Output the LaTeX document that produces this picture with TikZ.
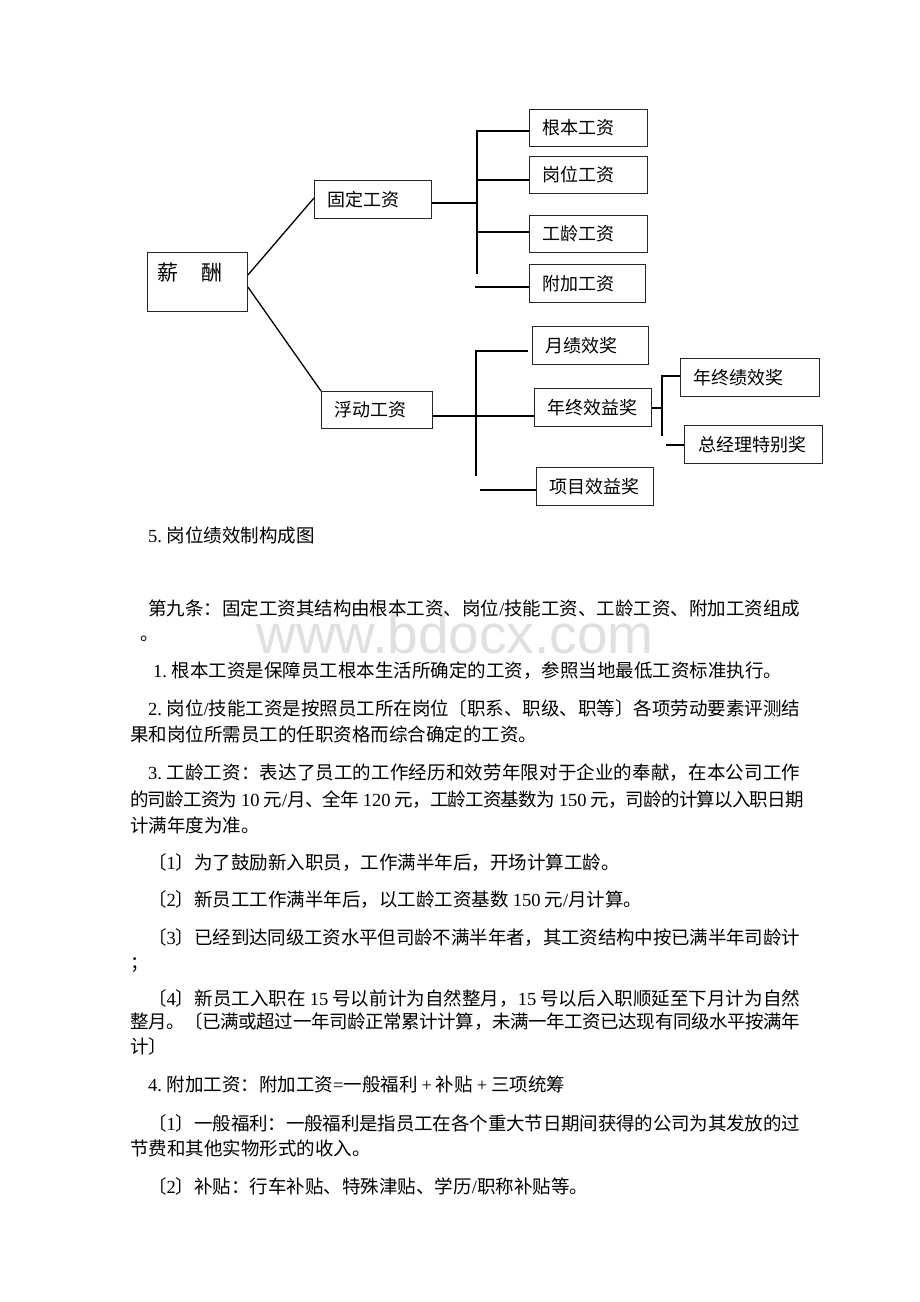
\documentclass[tikz,border=0pt]{standalone}
\usepackage{fontspec}
\setmainfont{Liberation Serif}
\newfontfamily\cjk{Noto Sans CJK SC}
\newfontfamily\tms{Liberation Serif}
\newfontfamily\wmfont{Liberation Sans}
\XeTeXinterchartokenstate=1
\newXeTeXintercharclass\cjkclass
\makeatletter
\count@="3000 \loop \XeTeXcharclass\count@=\cjkclass \advance\count@ by 1 \ifnum\count@<"3040 \repeat
\count@="4E00 \loop \XeTeXcharclass\count@=\cjkclass \advance\count@ by 1 \ifnum\count@<"A000 \repeat
\count@="FF00 \loop \XeTeXcharclass\count@=\cjkclass \advance\count@ by 1 \ifnum\count@<"FFF0 \repeat
\makeatother
\XeTeXinterchartoks\cjkclass\cjkclass={\hskip 0pt plus 4pt minus 0.8pt\relax}
\newcommand\nm[1]{\kern4pt{\tms #1}\kern4pt}
\newcommand\lead[1]{{\tms #1}\kern4.5pt}
\newcommand\jline[4]{\node[txt] (#1) at (#2) {\hbox to #3pt{#4}};}
\newcommand\nline[3]{\node[txt] (#1) at (#2) {#3};}
\begin{document}
\begin{tikzpicture}[x=1pt,y=-1pt,
  box/.style={draw=black!85, line width=0.9pt, rectangle, anchor=north west,
    inner ysep=0pt, inner xsep=13pt, align=left,
    font=\fontsize{18}{20}\selectfont\cjk},
  conn/.style={line width=1.4pt, black},
  txt/.style={anchor=base west, inner sep=0pt, font=\fontsize{18.5}{20}\selectfont\cjk},
  wm/.style={anchor=base, inner sep=0pt, text=black!12, font=\fontsize{55}{60}\selectfont\wmfont}]
\fill[white] (0,0) rectangle (920,1302);
\useasboundingbox (0,0) rectangle (920,1302);

% watermark
\node[wm] (wmk) at (455,653) {www.bdocx.com};

% boxes
\node[box, minimum width=100pt, minimum height=59pt] (xc) at (147,252) {};
\node[anchor=west, inner sep=0pt, font=\fontsize{21}{24}\selectfont\cjk] (xct) at (157,273) {薪\hspace{23pt}酬};
\node[box, minimum height=38pt, text width=91pt] (gd) at (314,180) {固定工资};
\node[box, minimum height=37pt, text width=92pt] (gb) at (529,109) {根本工资};
\node[box, minimum height=37pt, text width=92pt] (gw) at (529,156) {岗位工资};
\node[box, minimum height=37pt, text width=92pt] (gl) at (529,215) {工龄工资};
\node[box, minimum height=38pt, text width=90pt] (gf) at (529,264) {附加工资};
\node[box, minimum height=37pt, text width=85pt] (fd) at (321,391) {浮动工资};
\node[box, minimum height=38pt, text width=90pt] (yj) at (532,326) {月绩效奖};
\node[box, minimum height=38pt, text width=91pt] (nz) at (534,388) {年终效益奖};
\node[box, minimum height=38pt, text width=91pt] (xm) at (536,467) {项目效益奖};
\node[box, minimum height=38pt, text width=113pt] (nj) at (680,358) {年终绩效奖};
\node[box, minimum height=38pt, inner xsep=14pt, text width=110pt] (zj) at (684,425) {总经理特别奖};

% connectors: root
\draw[conn, line width=1.3pt] (xc.east |- 0,275) -- (gd.west |- 0,198);
\draw[conn, line width=1.3pt] (xc.east |- 0,287) -- (fd.north west);

% fixed salary bus
\coordinate (t0) at (477,203);
\coordinate (t1) at (477,131);
\coordinate (t2) at (477,180);
\coordinate (t3) at (477,232);
\coordinate (t4) at (477,274);
\coordinate (t5) at (475,287);
\draw[conn] (t0 -| gd.east) -- (t0);
\draw[conn] (t1 -| gb.west) -- (t1) -- (t4);
\draw[conn] (t2) -- (t2 -| gw.west);
\draw[conn] (t3) -- (t3 -| gl.west);
\draw[conn] (t5) -- (t5 -| gf.west);

% floating salary bus
\coordinate (u0) at (476,416);
\coordinate (u1) at (476,351);
\coordinate (u1e) at (528,351);
\coordinate (u2) at (476,476);
\coordinate (u3) at (480,490);
\draw[conn] (u1e) -- (u1) -- (u2);
\draw[conn] (u0 -| fd.east) -- (u0 -| nz.west);
\draw[conn] (u3) -- (u3 -| xm.west);

% year-end bonus bus
\coordinate (v0) at (662,408);
\coordinate (v1) at (662,376);
\coordinate (v2) at (662,436);
\coordinate (v3) at (666,445);
\draw[conn] (v0 -| nz.east) -- (v0);
\draw[conn] (v1 -| nj.west) -- (v1) -- (v2);
\draw[conn] (v3) -- (v3 -| zj.west);

% body text
\nline{l1}{148,542}{\lead{5.}岗位绩效制构成图}
\jline{l2}{148,615}{652}{第九条：固定工资其结构由根本工资、岗位{\tms /}技能工资、工龄工资、附加工资组成}
\nline{l3}{140,640}{。}
\nline{l4}{153,677}{\lead{1.}根本工资是保障员工根本生活所确定的工资，参照当地最低工资标准执行。}
\jline{l5}{148,715}{652}{\lead{2.}岗位{\tms /}技能工资是按照员工所在岗位〔职系、职级、职等〕各项劳动要素评测结}
\nline{l6}{130,741}{果和岗位所需员工的任职资格而综合确定的工资。}
\jline{l7}{148,779}{652}{\lead{3.}工龄工资：表达了员工的工作经历和效劳年限对于企业的奉献，在本公司工作}
\jline{l8}{130,806}{670}{的司龄工资为\nm{10}元{\tms /}月、全年\nm{120}元，工龄工资基数为\nm{150}元，司龄的计算以入职日期}
\nline{l9}{130,832}{计满年度为准。}
\nline{l10}{148,869}{〔{\tms 1}〕为了鼓励新入职员，工作满半年后，开场计算工龄。}
\nline{l11}{148,906}{〔{\tms 2}〕新员工工作满半年后，以工龄工资基数\nm{150}元{\tms /}月计算。}
\jline{l12}{148,944}{652}{〔{\tms 3}〕已经到达同级工资水平但司龄不满半年者，其工资结构中按已满半年司龄计}
\nline{l13}{130,969}{；}
\jline{l14}{148,1005}{652}{〔{\tms 4}〕新员工入职在\nm{15}号以前计为自然整月，{\tms 15}\kern4pt 号以后入职顺延至下月计为自然}
\jline{l15}{130,1028}{670}{整月。〔已满或超过一年司龄正常累计计算，未满一年工资已达现有同级水平按满年}
\nline{l16}{130,1053}{计〕}
\nline{l17}{148,1091}{\lead{4.}附加工资：附加工资{\tms =}一般福利\nm{+}补贴\nm{+}三项统筹}
\jline{l18}{148,1130}{652}{〔{\tms 1}〕一般福利：一般福利是指员工在各个重大节日期间获得的公司为其发放的过}
\nline{l19}{130,1155}{节费和其他实物形式的收入。}
\nline{l20}{148,1193}{〔{\tms 2}〕补贴：行车补贴、特殊津贴、学历{\tms /}职称补贴等。}
\end{tikzpicture}
\end{document}
